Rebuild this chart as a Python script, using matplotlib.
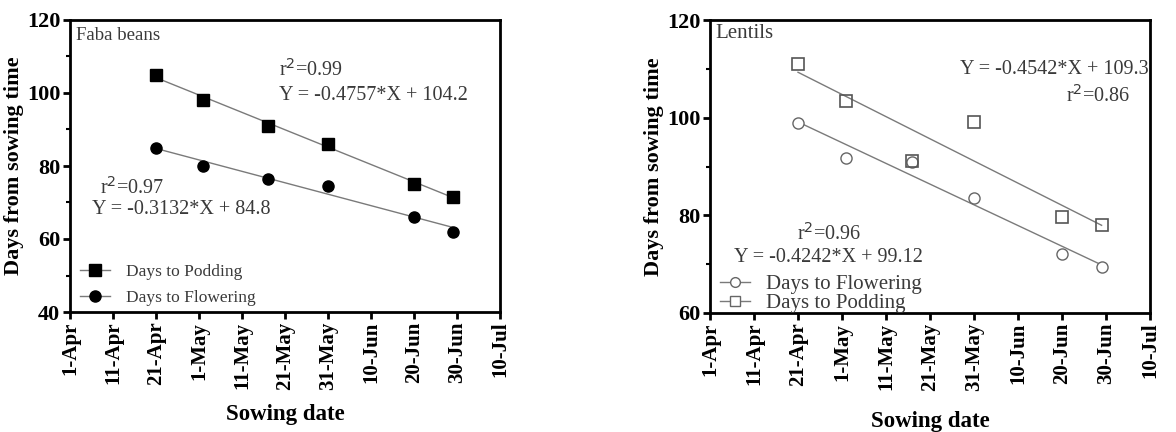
import numpy as np
import matplotlib
matplotlib.use("Agg")
import matplotlib.pyplot as plt
from matplotlib.ticker import MultipleLocator

plt.rcParams['font.family'] = ['Liberation Serif', 'DejaVu Serif']

# sowing dates as days from 1-Apr
sow_days = [20, 31, 46, 60, 80, 89]
tick_days = [0, 10, 20, 30, 40, 50, 60, 70, 80, 90, 100]
tick_labels = ['1-Apr', '11-Apr', '21-Apr', '1-May', '11-May', '21-May',
               '31-May', '10-Jun', '20-Jun', '30-Jun', '10-Jul']

# Faba beans
faba_podding = [105, 98, 91, 86, 75, 71.5]
faba_flowering = [85, 80, 76.5, 74.5, 66, 62]
faba_pod_fit = (-0.4757, 104.2)
faba_flw_fit = (-0.3132, 84.8)

# Lentils
lentil_flowering = [99, 91.8, 91, 83.5, 72, 69.5]
lentil_podding = [111, 103.5, 91.2, 99.2, 79.6, 78]
lentil_flw_fit = (-0.4242, 99.12)
lentil_pod_fit = (-0.4542, 109.3)

txt_col = '#3a3a3a'
line_col = '#7a7a7a'

fig = plt.figure(figsize=(11.76, 4.32), dpi=100)
ax1 = fig.add_axes([70 / 1176, 1 - 312 / 432, 430 / 1176, 292 / 432])
ax2 = fig.add_axes([710 / 1176, 1 - 313 / 432, 440 / 1176, 293 / 432])


def fit_line(ax, fit):
    xs = np.array([sow_days[0], sow_days[-1]])
    ax.plot(xs, fit[0] * (xs - sow_days[0]) + fit[1], color=line_col, lw=1, zorder=1)


def style_axes(ax, ymin, ymax, xlpad):
    ax.set_xlim(0, 100)
    ax.set_ylim(ymin, ymax)
    ax.set_xticks(tick_days)
    ax.set_xticklabels(tick_labels, rotation=90, fontsize=15, fontweight='bold')
    ax.yaxis.set_major_locator(MultipleLocator(20))
    ax.yaxis.set_minor_locator(MultipleLocator(10))
    for lab in ax.get_yticklabels():
        lab.set_fontsize(16)
        lab.set_fontweight('bold')
    ax.tick_params(axis='both', which='major', direction='out', length=5, width=2, pad=2)
    ax.tick_params(axis='y', which='minor', direction='out', length=3, width=1.5)
    for sp in ax.spines.values():
        sp.set_linewidth(2)
    ax.set_xlabel('Sowing date', fontsize=16.5, fontweight='bold', labelpad=xlpad)
    ax.set_ylabel('Days from sowing time', fontsize=16, fontweight='bold', labelpad=2)


# ---- Faba beans
fit_line(ax1, faba_pod_fit)
fit_line(ax1, faba_flw_fit)
ax1.plot(sow_days, faba_podding, 's', color='black', ms=8, zorder=3)
ax1.plot(sow_days, faba_flowering, 'o', color='black', ms=8, zorder=3)
h1, = ax1.plot([], [], 's-', color='black', ms=8, lw=1)
h2, = ax1.plot([], [], 'o-', color='black', ms=8, lw=1)
leg = ax1.legend([h1, h2], ['Days to Podding', 'Days to Flowering'], loc='lower left',
                 frameon=False, fontsize=12.5, handlelength=1.7, borderaxespad=0.2,
                 bbox_to_anchor=(0.0, -0.015), labelspacing=0.55, handletextpad=0.9)
for t in leg.get_texts():
    t.set_color(txt_col)
for ln in leg.get_lines():
    ln.set_color(line_col)
    ln.set_markerfacecolor('black')
    ln.set_markeredgecolor('black')
style_axes(ax1, 40, 120, 10)
ax1.text(0.015, 0.975, 'Faba beans', transform=ax1.transAxes, fontsize=13.5,
         color=txt_col, va='top', ha='left')
ax1.text(0.485, 0.83, r'r$^2$=0.99', transform=ax1.transAxes, fontsize=14.5,
         color=txt_col, va='center')
ax1.text(0.485, 0.74, 'Y = -0.4757*X + 104.2', transform=ax1.transAxes, fontsize=14.5,
         color=txt_col, va='center')
ax1.text(0.07, 0.425, r'r$^2$=0.97', transform=ax1.transAxes, fontsize=14.5,
         color=txt_col, va='center')
ax1.text(0.05, 0.35, 'Y = -0.3132*X + 84.8', transform=ax1.transAxes, fontsize=14.5,
         color=txt_col, va='center')

# ---- Lentils
fit_line(ax2, lentil_flw_fit)
fit_line(ax2, lentil_pod_fit)
ax2.plot(sow_days, lentil_flowering, 'o', mfc='white', mec='#666666', ms=8, mew=1, zorder=3)
ax2.plot(sow_days, lentil_podding, 's', mfc='none', mec='#555555', ms=9, mew=1.2, zorder=4)
g1, = ax2.plot([], [], 'o-', color=line_col, mfc='white', mec='#666666', ms=7, lw=1)
g2, = ax2.plot([], [], 's-', color=line_col, mfc='white', mec='#666666', ms=7, lw=1)
leg2 = ax2.legend([g1, g2], ['Days to Flowering', 'Days to Podding'], loc='lower left',
                  frameon=False, fontsize=15, handlelength=1.4, borderaxespad=0.1,
                  bbox_to_anchor=(0.0, -0.035), labelspacing=-0.05, handletextpad=0.8)
for t in leg2.get_texts():
    t.set_color(txt_col)
style_axes(ax2, 60, 120, 14)
ax2.text(0.012, 0.985, 'Lentils', transform=ax2.transAxes, fontsize=15,
         color=txt_col, va='top', ha='left')
ax2.text(0.998, 0.83, 'Y = -0.4542*X + 109.3', transform=ax2.transAxes, fontsize=14.5,
         color=txt_col, ha='right', va='center')
ax2.text(0.955, 0.74, r'r$^2$=0.86', transform=ax2.transAxes, fontsize=14.5,
         color=txt_col, ha='right', va='center')
ax2.text(0.27, 0.27, r'r$^2$=0.96', transform=ax2.transAxes, fontsize=14.5, color=txt_col,
         ha='center', va='center')
ax2.text(0.27, 0.19, 'Y = -0.4242*X + 99.12', transform=ax2.transAxes, fontsize=14.5,
         color=txt_col, ha='center', va='center')

fig.savefig('out.png', dpi=100)
